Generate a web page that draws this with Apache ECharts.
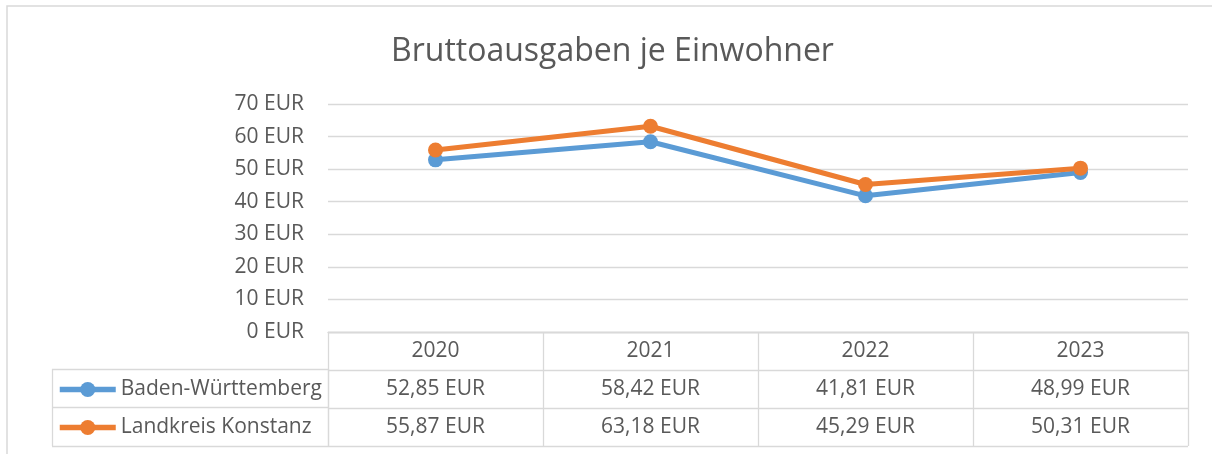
<!DOCTYPE html>
<html>
<head>
<meta charset="utf-8">
<script src="https://cdn.jsdelivr.net/npm/echarts@6/dist/echarts.min.js"></script>
<style>
  html, body { margin: 0; padding: 0; background: #fff; }
  #main { width: 1212px; height: 454px; }
</style>
</head>
<body>
<div id="main"></div>
<script>
let years = ["2020", "2021", "2022", "2023"];
let bw = [52.85, 58.42, 41.81, 48.99];
let lk = [55.87, 63.18, 45.29, 50.31];
let seriesNames = ["Baden-Württemberg", "Landkreis Konstanz"];
let yTicks = { min: 0, max: 70, interval: 10 };

const txt = "#595959";
const border = "#d9d9d9";
const font = "Open Sans";

let fmt = (v) => v.toFixed(2).replace(".", ",") + " EUR";

// Zellen der Datentabelle: [spalte, zeile, text]
let cells = [];
years.forEach((y, i) => {
  cells.push([i, 0, y]);
  cells.push([i, 1, fmt(bw[i])]);
  cells.push([i, 2, fmt(lk[i])]);
});

let initChart = echarts.init(document.getElementById("main"), null, {
  renderer: "canvas",
});

let tableAxis = {
  axisLabel: { show: false },
  axisLine: { show: false },
  axisTick: { show: false },
  splitLine: { show: true, interval: 0, lineStyle: { color: border, width: 1.3 } },
};

let legendBase = {
  left: 57,
  padding: 0,
  itemWidth: 56,
  itemHeight: 19,
  lineStyle: { width: 5.5 },
  textStyle: { color: txt, fontFamily: font, fontSize: 21, lineHeight: 19 },
};

let option = {
  animation: false,
  title: {
    text: "Bruttoausgaben je Einwohner",
    left: 386,
    top: 31,
    textStyle: { color: txt, fontFamily: font, fontSize: 32, fontWeight: "normal" },
  },
  graphic: [
    {
      type: "rect",
      shape: { x: 7, y: 6, width: 1230, height: 470 },
      style: { fill: "none", stroke: border, lineWidth: 1.5 },
      silent: true,
    },
  ],
  legend: [
    Object.assign({ data: [seriesNames[0]], top: 379 }, legendBase),
    Object.assign({ data: [seriesNames[1]], top: 417 }, legendBase),
  ],
  grid: [
    { left: 328, right: 24, top: 104, height: 228 },
    { left: 328, right: 24, top: 332, height: 114 },
    { left: 52, width: 276, top: 369, height: 77 },
  ],
  xAxis: [
    {
      gridIndex: 0,
      type: "category",
      data: years,
      boundaryGap: true,
      axisLabel: { show: false },
      axisTick: { show: false },
      axisLine: { show: true, lineStyle: { color: border, width: 1.3 } },
    },
    Object.assign({ gridIndex: 1, type: "category", data: years, boundaryGap: true }, tableAxis),
    Object.assign({ gridIndex: 2, type: "category", data: ["name"], boundaryGap: true }, tableAxis),
  ],
  yAxis: [
    {
      gridIndex: 0,
      type: "value",
      min: yTicks.min,
      max: yTicks.max,
      interval: yTicks.interval,
      axisLine: { show: false },
      axisTick: { show: false },
      axisLabel: {
        margin: 24,
        color: txt,
        fontFamily: font,
        fontSize: 21,
        formatter: "{value} EUR",
      },
      splitLine: { lineStyle: { color: border, width: 1.3 } },
    },
    Object.assign(
      { gridIndex: 1, type: "category", data: ["kopf", "bw", "lk"], inverse: true, boundaryGap: true },
      tableAxis
    ),
    Object.assign(
      { gridIndex: 2, type: "category", data: ["bw", "lk"], inverse: true, boundaryGap: true },
      tableAxis
    ),
  ],
  series: [
    {
      name: seriesNames[0],
      type: "line",
      data: bw,
      xAxisIndex: 0,
      yAxisIndex: 0,
      symbol: "circle",
      symbolSize: 15,
      color: "#5b9bd5",
      lineStyle: { width: 5 },
    },
    {
      name: seriesNames[1],
      type: "line",
      data: lk,
      xAxisIndex: 0,
      yAxisIndex: 0,
      symbol: "circle",
      symbolSize: 15,
      color: "#ed7d31",
      lineStyle: { width: 5 },
    },
    {
      // Texte der Tabelle
      type: "custom",
      xAxisIndex: 1,
      yAxisIndex: 1,
      data: cells,
      silent: true,
      renderItem: (params, api) => {
        let p = api.coord([api.value(0), api.value(1)]);
        return {
          type: "text",
          x: p[0],
          y: p[1],
          style: {
            text: cells[params.dataIndex][2],
            fill: txt,
            font: "21px 'Open Sans'",
            align: "center",
            verticalAlign: "middle",
          },
        };
      },
    },
    {
      type: "custom",
      xAxisIndex: 2,
      yAxisIndex: 2,
      data: [],
      renderItem: () => null,
    },
  ],
};

initChart.setOption(option);
</script>
</body>
</html>
